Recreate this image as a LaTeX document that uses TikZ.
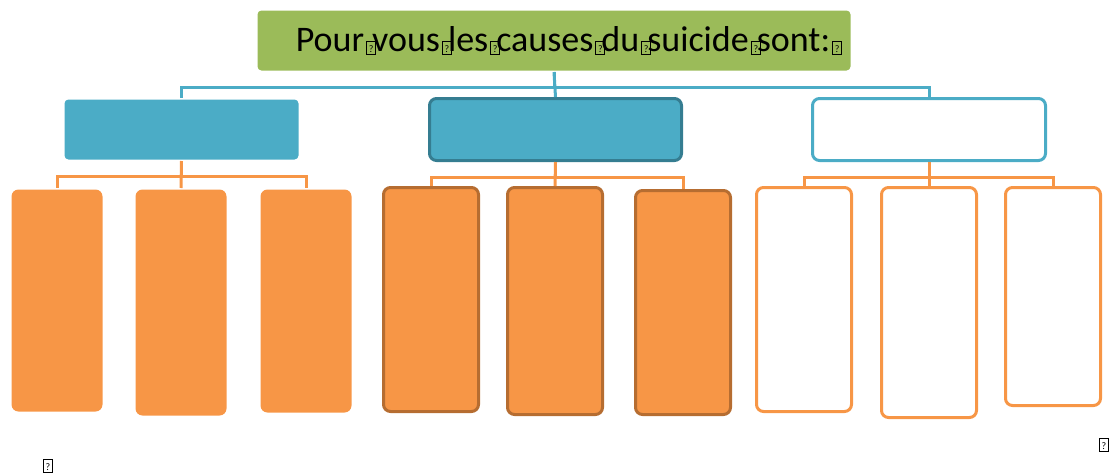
\documentclass[tikz,border=0pt]{standalone}
\usepackage{fontspec}
\setmainfont{Carlito}
\definecolor{smgreen}{RGB}{155,187,89}
\definecolor{smblue}{RGB}{75,172,198}
\definecolor{smdblue}{RGB}{53,125,145}
\definecolor{smorange}{RGB}{247,150,70}
\definecolor{smbrown}{RGB}{182,109,49}
\newcommand\qbox{{\setlength\fboxsep{0pt}\setlength\fboxrule{1pt}\raisebox{-2pt}{\fbox{\makebox[8pt]{\rule{0pt}{12pt}\raisebox{1.5pt}{\fontsize{10}{10}\selectfont ?}}}}}}
\newcommand\gap{\kern2pt\qbox\kern-4pt}

\begin{document}
\begin{tikzpicture}[x=1pt,y=-1pt,line width=3pt,
  box/.style={anchor=north west,rounded corners=4pt,inner sep=0pt},
  leaf/.style={anchor=north west,rounded corners=7pt,inner sep=0pt,minimum width=91pt}]
  \useasboundingbox (0,0) rectangle (1109,474);
  % title
  \node[box,fill=smgreen,minimum width=593pt,minimum height=60pt] (title) at (256,9) {};
  \node[font=\fontsize{36}{36}\selectfont] (ttext) at (569,41)
    {Pour\gap vous\gap les\gap causes\gap du\gap suicide\gap sont:\kern2pt\qbox};
  % second level
  \node[box,fill=smblue,minimum width=234pt,minimum height=60pt] (catA) at (63,98) {};
  \node[box,fill=smblue,draw=smdblue,rounded corners=7pt,minimum width=252pt,minimum height=62pt] (catB) at (428,97) {};
  \node[box,fill=white,draw=smblue,rounded corners=7pt,minimum width=233pt,minimum height=62pt] (catC) at (811,97) {};
  \draw[smblue] (title.south) -- ++(0,15) -| (catA.north);
  \draw[smblue] (title.south) -- ++(0,15) -| (catC.north);
  \draw[smblue] (title.south) -- (catB.north);
  % third level
  \node[leaf,fill=smorange,minimum height=222pt] (a1) at (10,188) {};
  \node[leaf,fill=smorange,minimum height=226pt] (a2) at (134,188) {};
  \node[leaf,fill=smorange,minimum height=223pt] (a3) at (259,188) {};
  \node[leaf,fill=smorange,draw=smbrown,minimum width=95pt,minimum height=224pt] (b1) at (382,186) {};
  \node[leaf,fill=smorange,draw=smbrown,minimum width=95pt,minimum height=227pt] (b2) at (506,186) {};
  \node[leaf,fill=smorange,draw=smbrown,minimum width=95pt,minimum height=224pt] (b3) at (634,189) {};
  \node[leaf,fill=white,draw=smorange,minimum width=95pt,minimum height=224pt] (c1) at (755,186) {};
  \node[leaf,fill=white,draw=smorange,minimum width=95pt,minimum height=230pt] (c2) at (880,186) {};
  \node[leaf,fill=white,draw=smorange,minimum width=95pt,minimum height=218pt] (c3) at (1004,186) {};
  \foreach \p/\c in {catA/a,catB/b,catC/c}{
    \draw[smorange] (\p.south) -- ++(0,15) -| (\c1.north);
    \draw[smorange] (\p.south) -- ++(0,15) -| (\c3.north);
    \draw[smorange] (\p.south) -- (\c2.north);
  }
  \node[anchor=base,inner sep=0pt] (markL) at (48,470) {\qbox};
  \node[anchor=base,inner sep=0pt] (markR) at (1104,449) {\qbox};
\end{tikzpicture}
\end{document}
